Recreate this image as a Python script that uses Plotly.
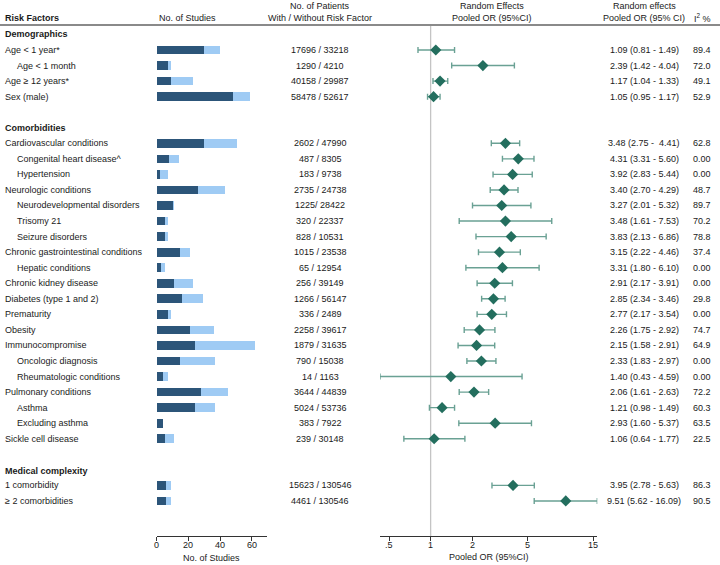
import plotly.graph_objects as go
import numpy as np

W, H = 720, 565

# ---------------- data ----------------
labels = ["Age < 1 year*", "Age < 1 month", "Age ≥ 12 years*", "Sex (male)",
          "Cardiovascular conditions", "Congenital heart disease^", "Hypertension",
          "Neurologic conditions", "Neurodevelopmental disorders", "Trisomy 21",
          "Seizure disorders", "Chronic gastrointestinal conditions", "Hepatic conditions",
          "Chronic kidney disease", "Diabetes (type 1 and 2)", "Prematurity", "Obesity",
          "Immunocompromise", "Oncologic diagnosis", "Rheumatologic conditions",
          "Pulmonary conditions", "Asthma", "Excluding asthma", "Sickle cell disease",
          "1 comorbidity", "≥ 2 comorbidities"]
rows = [0, 1, 2, 3, 6, 7, 8, 9, 10, 11, 12, 13, 14, 15, 16, 17, 18, 19, 20, 21,
        22, 23, 24, 25, 28, 29]
indent = [0, 1, 0, 0, 0, 1, 1, 0, 1, 1, 1, 0, 1, 0, 0, 0, 0, 0, 1, 1, 0, 1, 1, 0, 0, 0]

sections = ["Demographics", "Comorbidities", "Medical complexity"]
section_rows = [-1, 5, 27.1]

studies_pooled = [30, 7, 9, 48, 30, 8, 2, 26, 10, 5, 5, 15, 3, 11, 16, 7, 21, 24, 15, 4,
                  28, 24, 4, 5, 6, 6]
studies_other = [10, 2, 14, 11, 21, 6, 5, 17, 1, 2, 2, 6, 2, 12, 13, 2, 15, 38, 22, 3,
                 17, 13, 0, 6, 3, 3]

patients = ["17696 / 33218", "1290 / 4210", "40158 / 29987", "58478 / 52617",
            "2602 / 47990", "487 / 8305", "183 / 9738", "2735 / 24738", "1225/ 28422",
            "320 / 22337", "828 / 10531", "1015 / 23538", "65 / 12954", "256 / 39149",
            "1266 / 56147", "336 / 2489", "2258 / 39617", "1879 / 31635", "790 / 15038",
            "14 / 1163", "3644 / 44839", "5024 / 53736", "383 / 7922", "239 / 30148",
            "15623 / 130546", "4461 / 130546"]

odds = [1.09, 2.39, 1.17, 1.05, 3.48, 4.31, 3.92, 3.40, 3.27, 3.48, 3.83, 3.15, 3.31,
        2.91, 2.85, 2.77, 2.26, 2.15, 2.33, 1.40, 2.06, 1.21, 2.93, 1.06, 3.95, 9.51]
ci_low = [0.81, 1.42, 1.04, 0.95, 2.75, 3.31, 2.83, 2.70, 2.01, 1.61, 2.13, 2.22, 1.80,
          2.17, 2.34, 2.17, 1.75, 1.58, 1.83, 0.43, 1.61, 0.98, 1.60, 0.64, 2.78, 5.62]
ci_high = [1.49, 4.04, 1.33, 1.17, 4.41, 5.60, 5.44, 4.29, 5.32, 7.53, 6.86, 4.46, 6.10,
           3.91, 3.46, 3.54, 2.92, 2.91, 2.97, 4.59, 2.63, 1.49, 5.37, 1.77, 5.63, 16.09]
or_text = ["1.09 (0.81 - 1.49)", "2.39 (1.42 - 4.04)", "1.17 (1.04 - 1.33)",
           "1.05 (0.95 - 1.17)", "3.48 (2.75 -  4.41)", "4.31 (3.31 - 5.60)",
           "3.92 (2.83 - 5.44)", "3.40 (2.70 - 4.29)", "3.27 (2.01 - 5.32)",
           "3.48 (1.61 - 7.53)", "3.83 (2.13 - 6.86)", "3.15 (2.22 - 4.46)",
           "3.31 (1.80 - 6.10)", "2.91 (2.17 - 3.91)", "2.85 (2.34 - 3.46)",
           "2.77 (2.17 - 3.54)", "2.26 (1.75 - 2.92)", "2.15 (1.58 - 2.91)",
           "2.33 (1.83 - 2.97)", "1.40 (0.43 - 4.59)", "2.06 (1.61 - 2.63)",
           "1.21 (0.98 - 1.49)", "2.93 (1.60 - 5.37)", "1.06 (0.64 - 1.77)",
           "3.95 (2.78 - 5.63)", "9.51 (5.62 - 16.09)"]
i2 = ["89.4", "72.0", "49.1", "52.9", "62.8", "0.00", "0.00", "48.7", "89.7", "70.2",
      "78.8", "37.4", "0.00", "0.00", "29.8", "0.00", "74.7", "64.9", "0.00", "0.00",
      "72.2", "60.3", "63.5", "22.5", "86.3", "90.5"]

bar_ticks = [0, 20, 40, 60]
bar_ticklabels = ["0", "20", "40", "60"]
or_ticks = [0.5, 1, 2, 5, 15]
or_ticklabels = [".5", "1", "2", "5", "15"]

# ---------------- styling ----------------
FONT = "Liberation Sans"
TXT = "#1a1a1a"
DARK_BAR = "#2c5579"
LIGHT_BAR = "#9fcbf4"
DIAMOND = "#236e5e"
WHISK = "#6aa194"

def px(x):
    return x / W

def py(y):
    return (H - y) / H

row0, step = 50.0, 15.55
y_top_px, y_bot_px = 25.0, 536.0
yrange = [(y_bot_px - row0) / step, (y_top_px - row0) / step]

fig = go.Figure()

fig.add_trace(go.Bar(
    x=studies_pooled, y=rows, orientation="h", width=0.56,
    marker=dict(color=DARK_BAR, line=dict(width=0)),
    xaxis="x", yaxis="y", showlegend=False, hoverinfo="skip"))
fig.add_trace(go.Bar(
    x=studies_other, y=rows, orientation="h", width=0.56,
    marker=dict(color=LIGHT_BAR, line=dict(width=0)),
    xaxis="x", yaxis="y", showlegend=False, hoverinfo="skip"))

err_plus = [h - o for h, o in zip(ci_high, odds)]
err_minus = [o - l for o, l in zip(odds, ci_low)]
fig.add_trace(go.Scatter(
    x=odds, y=rows, mode="markers", xaxis="x2", yaxis="y",
    marker=dict(symbol="diamond", size=8.6, color=DIAMOND, line=dict(width=0)),
    error_x=dict(type="data", array=err_plus, arrayminus=err_minus,
                 color=WHISK, thickness=1.4, width=3),
    showlegend=False, hoverinfo="skip", cliponaxis=False))

ydom = [py(y_bot_px), py(y_top_px)]
lo_or, hi_or = 0.43, 16.09

fig.update_layout(
    width=W, height=H, margin=dict(l=0, r=0, t=0, b=0),
    paper_bgcolor="white", plot_bgcolor="white",
    barmode="stack", bargap=0,
    font=dict(family=FONT, size=9, color=TXT),
    xaxis=dict(domain=[px(156.7), px(266.7)], range=[0, 69.5], anchor="y",
               tickvals=bar_ticks, ticks="outside", ticklen=4, tickwidth=1,
               tickcolor="#333", showline=True, linecolor="#333", linewidth=1,
               showgrid=False, zeroline=False, showticklabels=False),
    xaxis2=dict(domain=[px(380), px(597.3)], type="log",
                range=[np.log10(lo_or), np.log10(hi_or)], anchor="y",
                tickvals=or_ticks, ticks="outside",
                ticklen=4, tickwidth=1, tickcolor="#333", showline=True,
                linecolor="#333", linewidth=1, showgrid=False, zeroline=False,
                showticklabels=False),
    yaxis=dict(domain=ydom, range=yrange, visible=False, showgrid=False),
)

shapes = []
shapes.append(dict(type="line", xref="paper", yref="paper", x0=0, x1=1,
                   y0=py(25), y1=py(25), line=dict(color="#8a8a8a", width=2)))
shapes.append(dict(type="line", xref="x2", yref="paper", x0=1, x1=1,
                   y0=ydom[0], y1=ydom[1], line=dict(color="#c4c4c4", width=1.3),
                   layer="below"))
fig.update_layout(shapes=shapes)

ann = []
def add_text(text, x, y, yref="paper", xanchor="center", bold=False, size=9, xref="paper"):
    t = f"<b>{text}</b>" if bold else text
    ann.append(dict(text=t, x=x, y=y, xref=xref, yref=yref, xanchor=xanchor,
                    yanchor="middle", showarrow=False, borderpad=0,
                    font=dict(family=FONT, size=size, color=TXT)))

add_text("Risk Factors", px(4), py(17.7), xanchor="left", bold=True)
add_text("No. of Studies", px(187.7), py(17.7))
add_text("No. of Patients", px(320), py(6))
add_text("With / Without Risk Factor", px(320), py(18))
add_text("Random Effects", px(492), py(6))
add_text("Pooled OR (95%CI)", px(492), py(18))
add_text("Random effects", px(644), py(6))
add_text("Pooled OR (95% CI)", px(644), py(18))
add_text("I<sup>2</sup> %", px(702), py(18))

for s, r in zip(sections, section_rows):
    add_text(s, px(4), r, yref="y", xanchor="left", bold=True)

for lab, r, ind, pat, ot, ii in zip(labels, rows, indent, patients, or_text, i2):
    add_text(lab, px(16 if ind else 4), r, yref="y", xanchor="left")
    add_text(pat, px(320), r, yref="y")
    add_text(ot, px(644), r, yref="y")
    add_text(ii, px(702), r, yref="y")

# tick labels
for v, t in zip(bar_ticks, bar_ticklabels):
    add_text(t, v, py(545), xref="x")
for v, t in zip(or_ticks, or_ticklabels):
    add_text(t, np.log10(v), py(545), xref="x2")

# axis titles
add_text("No. of Studies", px(211.5), py(557.5))
add_text("Pooled OR (95%CI)", px(488.5), py(557))

fig.update_layout(annotations=ann)

fig.write_html("out.html",
               config={"displayModeBar": False, "staticPlot": True},
               post_script="document.body.style.margin='0';document.body.style.overflow='hidden';")
